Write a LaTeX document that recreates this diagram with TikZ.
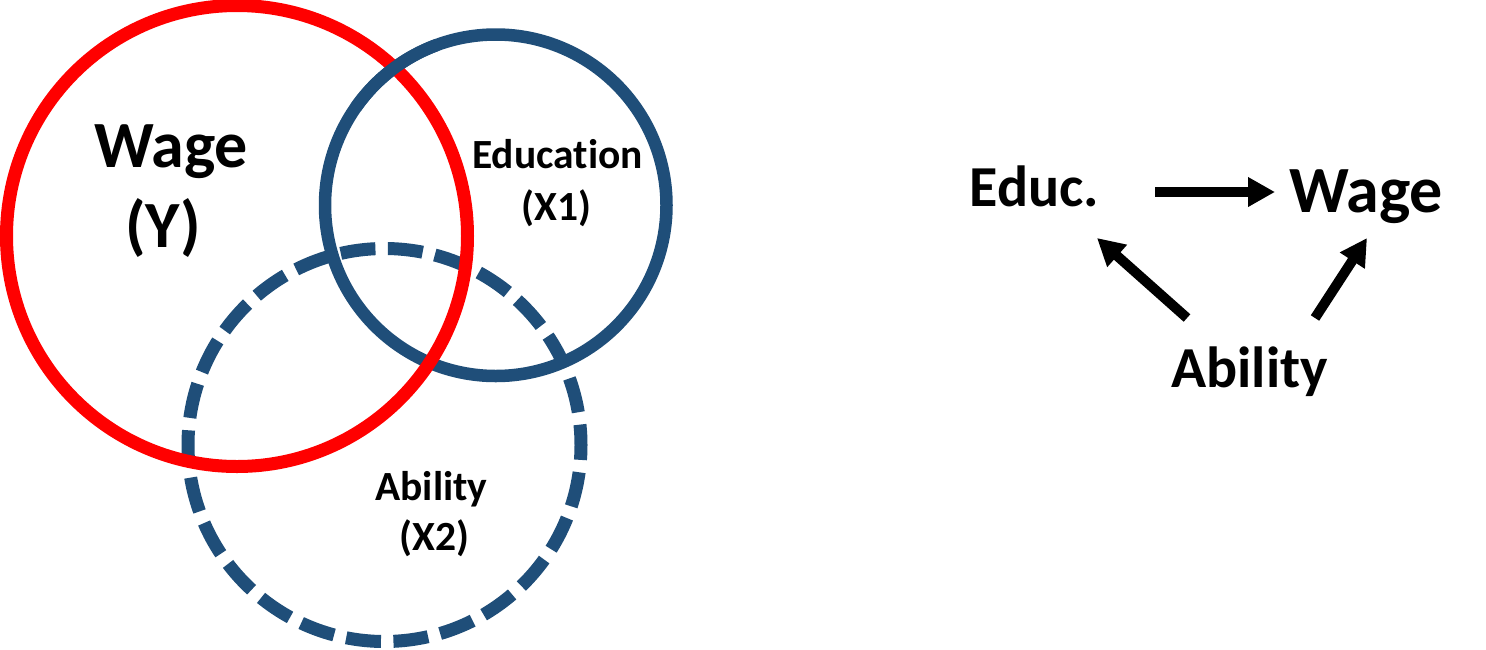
\documentclass[tikz,border=0pt]{standalone}
\usepackage{fontspec}
\setmainfont{Carlito}[Ligatures=NoCommon]
\usetikzlibrary{arrows.meta}
\definecolor{vred}{RGB}{255,0,0}
\definecolor{vblue}{RGB}{31,78,121}
\begin{document}
\begin{tikzpicture}[x=1pt,y=-1pt,
  lbl/.style={inner sep=0pt, anchor=base, text=black},
  fbig/.style={font=\fontsize{66}{80}\selectfont\bfseries},
  fmid/.style={font=\fontsize{41.5}{46}\selectfont\bfseries},
  fdag/.style={font=\fontsize{58}{64}\selectfont\bfseries},
  ring/.style={line width=12.5pt},
  dashring/.style={line width=13pt, dash pattern=on 35pt off 12.48pt, dash phase=20.12pt},
  dagarrow/.style={line width=10pt, -{Triangle[length=27pt,width=28pt]}}
]
\useasboundingbox (0,0) rectangle (1486,649);
\fill[white] (0,0) rectangle (1486,649);

\coordinate (cRed) at (237,236);
\coordinate (cEdu) at (495.75,205.25);
\coordinate (cAbi) at (384.5,445);

% circles
\draw[vblue, dashring] (cAbi) circle (196.5);
\draw[vblue, ring] (cEdu) circle (170.75);
\draw[vred, line width=13pt] (cRed) circle (230.5);
\draw[vblue, ring] (cEdu) ++(215:170.75) arc[start angle=215, end angle=250, radius=170.75];

% Venn labels
\node[lbl, fbig] (wageL) at (171,167) {Wage};
\node[lbl, fbig] (yL) at (163,247) {(Y)};
\node[lbl, fmid] (eduL) at (557.5,168) {Education};
\node[lbl, fmid] (x1L) at (556.5,220) {(X1)};
\node[lbl, fmid] (abiL) at (431.5,500) {Ability};
\node[lbl, fmid] (x2L) at (434.5,550) {(X2)};

% DAG
\node[lbl, fdag] (educR) at (1034.5,206) {Educ.};
\node[lbl, fbig] (wageR) at (1366,212) {Wage};
\node[lbl, fdag] (abilR) at (1249.5,387) {Ability};

\draw[dagarrow] ([shift={(120.5,-14)}]educR.base) -- ([shift={(-91,-20)}]wageR.base);
\draw[dagarrow] ([shift={(-62.5,-69)}]abilR.base) -- ([shift={(62.5,32)}]educR.base);
\draw[dagarrow] ([shift={(65.5,-69)}]abilR.base) -- ([shift={(1,26)}]wageR.base);
\end{tikzpicture}
\end{document}
